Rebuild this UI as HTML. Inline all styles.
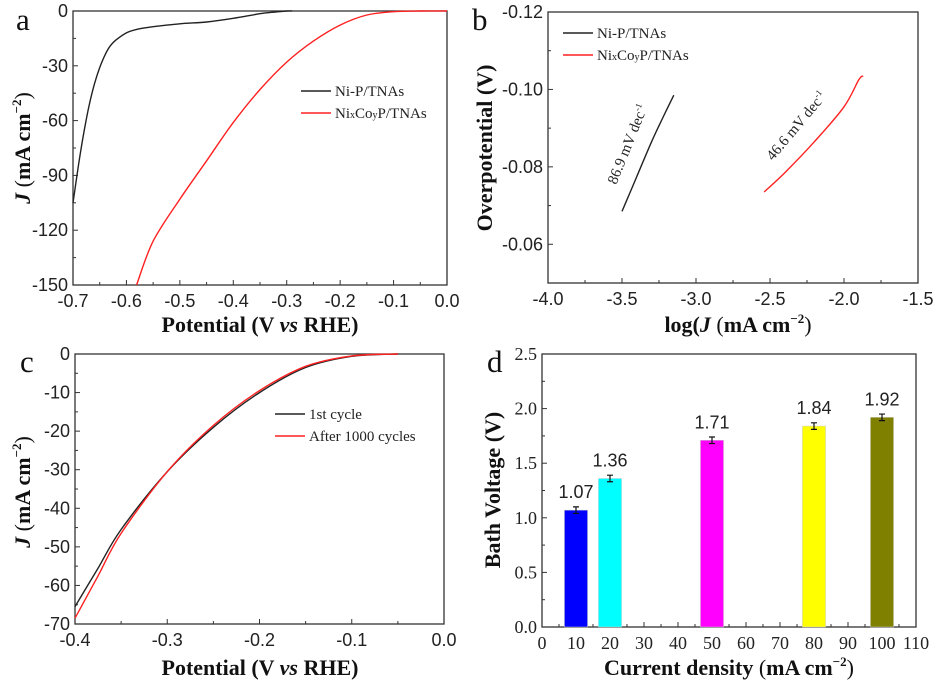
<!DOCTYPE html>
<html><head><meta charset="utf-8"><style>
html,body{margin:0;padding:0;background:#fff}
svg{display:block}
.tk{font-family:"Liberation Sans",sans-serif;font-size:18px;fill:#222}
.tks{font-family:"Liberation Serif",serif;font-size:18px;fill:#222}
.ttl{font-family:"Liberation Serif",serif;font-size:22px;font-weight:bold;fill:#111}
.lg{font-family:"Liberation Serif",serif;font-size:15px;fill:#222}
.pl{font-family:"Liberation Serif",serif;font-size:31px;fill:#111}
</style></head><body>
<svg id="fig" width="938" height="681" viewBox="0 0 938 681" xmlns="http://www.w3.org/2000/svg">
<text class="pl" x="16" y="30">a</text>
<text class="pl" x="472" y="30">b</text>
<text class="pl" x="20" y="372">c</text>
<text class="pl" x="487" y="372">d</text>
</svg>
<script>
// Panel a data
const aBlackX=[-0.7,-0.69,-0.68,-0.67,-0.66,-0.65,-0.64,-0.63,-0.62,-0.6,-0.58,-0.55,-0.5,-0.45,-0.4,-0.35,-0.32,-0.3,-0.29];
const aBlackY=[-105,-85,-67,-52,-40,-31,-24,-19,-16,-12,-10,-8.6,-7,-6,-4,-1.5,-0.5,0,0];
const aRedX=[-0.581,-0.55,-0.5,-0.45,-0.4,-0.35,-0.3,-0.25,-0.2,-0.15,-0.1,-0.05,0];
const aRedY=[-150,-126,-103,-82,-61,-43,-28,-16.5,-7.7,-2.2,-0.4,0,0];
// Panel b data
const bBlackX=[-3.5,-3.45,-3.4,-3.3,-3.22,-3.15];
const bBlackY=[-0.0685,-0.073,-0.0775,-0.0865,-0.093,-0.0985];
const bRedX=[-2.54,-2.4,-2.2,-2.0,-1.9,-1.87];
const bRedY=[-0.0735,-0.0785,-0.0865,-0.0955,-0.1025,-0.1035];
// Panel c data
const cBlackX=[-0.4,-0.375,-0.35,-0.3,-0.25,-0.2,-0.15,-0.1,-0.05];
const cBlackY=[-65.5,-55.5,-45.5,-30.5,-19,-10,-3.5,-0.6,0];
const cRedX=[-0.4,-0.375,-0.35,-0.3,-0.25,-0.2,-0.15,-0.1,-0.05];
const cRedY=[-68.5,-57.5,-46.5,-30.5,-18.5,-9.5,-3.2,-0.5,0];
// Panel d data
const dCats=[10,20,50,80,100];
const dVals=[1.07,1.36,1.71,1.84,1.92];
const dLabels=["1.07","1.36","1.71","1.84","1.92"];
const dErr=[0.03,0.03,0.03,0.03,0.03];
const dColors=["#0000ff","#00ffff","#ff00ff","#ffff00","#808000"];

const NS="http://www.w3.org/2000/svg";
const svg=document.getElementById('fig');
function el(tag,attrs,parent){const e=document.createElementNS(NS,tag);for(const k in attrs)e.setAttribute(k,attrs[k]);(parent||svg).appendChild(e);return e;}
function txt(cls,x,y,s,anchor,parent){const t=el('text',{class:cls,x:x,y:y,'text-anchor':anchor||'middle'},parent);t.textContent=s;return t;}

function panel(o){
  const sx=v=>o.x0+(v-o.xmin)/(o.xmax-o.xmin)*(o.x1-o.x0);
  const sy=v=>o.y1-(v-o.ymin)/(o.ymax-o.ymin)*(o.y1-o.y0);
  const box=el('rect',{x:o.x0,y:o.y0,width:o.x1-o.x0,height:o.y1-o.y0,fill:'none',stroke:'#333','stroke-width':1.3});
  
  
  o.xt.forEach((v,i)=>{const X=sx(v);
    el('line',{x1:X,x2:X,y1:o.y1,y2:o.y1-5,stroke:'#333'});
    if(i<o.xt.length-1){const m=sx((v+o.xt[i+1])/2);el('line',{x1:m,x2:m,y1:o.y1,y2:o.y1-3,stroke:'#333'});}
    const t=txt(o.xcls||'tk',X,o.y1+22,o.xl[i]);
    
    
  });
  o.yt.forEach((v,i)=>{const Y=sy(v);
    el('line',{x1:o.x0,x2:o.x0+5,y1:Y,y2:Y,stroke:'#333'});
    if(i<o.yt.length-1){const m=sy((v+o.yt[i+1])/2);el('line',{x1:o.x0,x2:o.x0+3,y1:m,y2:m,stroke:'#333'});}
    const t=txt(o.ycls||'tk',o.x0-5,Y+6,o.yl[i],'end');
    
    
  });
  return {sx,sy};
}
function line(p,xs,ys,color,name){
  const P=xs.map((x,i)=>[p.sx(x),p.sy(ys[i])]);
  let d='M'+P[0][0].toFixed(1)+','+P[0][1].toFixed(1);
  for(let i=0;i<P.length-1;i++){
    const p0=P[Math.max(0,i-1)],p1=P[i],p2=P[i+1],p3=P[Math.min(P.length-1,i+2)];
    const c1=[p1[0]+(p2[0]-p0[0])/6,p1[1]+(p2[1]-p0[1])/6];
    const c2=[p2[0]-(p3[0]-p1[0])/6,p2[1]-(p3[1]-p1[1])/6];
    d+='C'+c1.map(v=>v.toFixed(1)).join(',')+' '+c2.map(v=>v.toFixed(1)).join(',')+' '+p2.map(v=>v.toFixed(1)).join(',');
  }
  const e=el('path',{d:d,fill:'none',stroke:color,'stroke-width':1.4});
  
  
}
function legend(x,y,items,name){
  items.forEach((it,i)=>{
    el('line',{x1:x,x2:x+30,y1:y+i*22,y2:y+i*22,stroke:it[1],'stroke-width':1.4});
    const t=el('text',{class:'lg',x:x+34,y:y+i*22+5,'text-anchor':'start'});
    t.innerHTML=it[0];
    
    
  });
}
function ylabel(x,y,html,name){
  const g=el('g',{transform:'translate('+x+','+y+') rotate(-90)'});
  const t=el('text',{class:'ttl',x:0,y:0,'text-anchor':'middle'},g);t.innerHTML=html;
  
  
}
function xlabel(x,y,html,name){
  const t=el('text',{class:'ttl',x:x,y:y,'text-anchor':'middle'});t.innerHTML=html;
  
  
}
const JL='<tspan font-style="italic">J</tspan><tspan font-weight="normal"> (</tspan>mA cm<tspan font-size="13" dy="-9">−2</tspan><tspan font-weight="normal" dy="9">)</tspan>';
const PL='Potential (V <tspan font-style="italic">vs</tspan>  RHE)';
const NiP='Ni-P/TNAs';
const NiCo='Ni<tspan font-size="10">x</tspan>Co<tspan font-size="10">y</tspan>P/TNAs';

// Panel a
const pa=panel({name:'panel-a',x0:73,x1:447,y0:11,y1:285,xmin:-0.7,xmax:0,ymin:-150,ymax:0,
  xt:[-0.7,-0.6,-0.5,-0.4,-0.3,-0.2,-0.1,0],xl:["-0.7","-0.6","-0.5","-0.4","-0.3","-0.2","-0.1","0.0"],
  yt:[-150,-120,-90,-60,-30,0],yl:["-150","-120","-90","-60","-30","0"]});
line(pa,aBlackX,aBlackY,'#222','panel-a-nip-curve');
line(pa,aRedX,aRedY,'#ff2020','panel-a-nicop-curve');
legend(301,91,[[NiP,"#222"],[NiCo,"#ff2020"]],'panel-a-legend');
ylabel(30,148,JL,'panel-a-y-axis-title');
xlabel(260,332,PL,'panel-a-x-axis-title');

// Panel b
const pb=panel({name:'panel-b',x0:548,x1:918,y0:12,y1:283,xmin:-4,xmax:-1.5,ymin:-0.05,ymax:-0.12,
  xt:[-4,-3.5,-3,-2.5,-2,-1.5],xl:["-4.0","-3.5","-3.0","-2.5","-2.0","-1.5"],
  yt:[-0.06,-0.08,-0.10,-0.12],yl:["-0.06","-0.08","-0.10","-0.12"]});
line(pb,bBlackX,bBlackY,'#222','panel-b-nip-tafel');
line(pb,bRedX,bRedY,'#ff2020','panel-b-nicop-tafel');
legend(563,33,[[NiP,"#222"],[NiCo,"#ff2020"]],'panel-b-legend');
(function(){const t=el('text',{class:'lg',x:0,y:0,'text-anchor':'middle',transform:'translate(632,146) rotate(-68)'});t.innerHTML='86.9 mV dec<tspan font-size="9" dy="-6">-1</tspan>';
const t2=el('text',{class:'lg',x:0,y:0,'text-anchor':'middle',transform:'translate(800,129) rotate(-50)'});t2.innerHTML='46.6 mV dec<tspan font-size="9" dy="-6">-1</tspan>';})();
ylabel(492,148,'Overpotential (V)','panel-b-y-axis-title');
xlabel(738,332,'log(<tspan font-style="italic">J</tspan><tspan font-weight="normal"> (</tspan>mA cm<tspan font-size="13" dy="-9">−2</tspan><tspan font-weight="normal" dy="9">)</tspan>','panel-b-x-axis-title');

// Panel c
const pc=panel({name:'panel-c',x0:75,x1:444,y0:354,y1:624,xmin:-0.4,xmax:0,ymin:-70,ymax:0,
  xt:[-0.4,-0.3,-0.2,-0.1,0],xl:["-0.4","-0.3","-0.2","-0.1","0.0"],
  yt:[-70,-60,-50,-40,-30,-20,-10,0],yl:["-70","-60","-50","-40","-30","-20","-10","0"]});
line(pc,cBlackX,cBlackY,'#222','panel-c-1st-cycle-curve');
line(pc,cRedX,cRedY,'#ff2020','panel-c-after-1000-curve');
legend(275,414,[["1st cycle","#222"],["After 1000 cycles","#ff2020"]],'panel-c-legend');
ylabel(30,492,JL,'panel-c-y-axis-title');
xlabel(260,675,PL,'panel-c-x-axis-title');

// Panel d
const pd=panel({name:'panel-d',x0:542,x1:916,y0:354,y1:627,xmin:0,xmax:110,ymin:0,ymax:2.5,xcls:'tks',ycls:'tks',
  xt:[0,10,20,30,40,50,60,70,80,90,100,110],xl:["0","10","20","30","40","50","60","70","80","90","100","110"],
  yt:[0,0.5,1,1.5,2,2.5],yl:["0.0","0.5","1.0","1.5","2.0","2.5"]});
dCats.forEach((c,i)=>{
  const w=pd.sx(3.4)-pd.sx(0);
  const X=pd.sx(c),Y=pd.sy(dVals[i]);
  const r=el('rect',{x:X-w,y:Y,width:2*w,height:pd.sy(0)-Y,fill:dColors[i],stroke:'#ccc','stroke-width':0.5});
  
  
  const ye1=pd.sy(dVals[i]+dErr[i]),ye2=pd.sy(dVals[i]-dErr[i]);
  el('path',{d:`M${X},${ye1}V${ye2}M${X-3},${ye1}H${X+3}M${X-3},${ye2}H${X+3}`,stroke:'#111','stroke-width':1.2,fill:'none'});
  const t=txt('tk',X,Y-12,dLabels[i]);
  
  
});
ylabel(500,490,'Bath Voltage (V)','panel-d-y-axis-title');
xlabel(729,675,'Current density<tspan font-weight="normal"> (</tspan>mA cm<tspan font-size="13" dy="-9">−2</tspan><tspan font-weight="normal" dy="9">)</tspan>','panel-d-x-axis-title');
</script>
</body></html>
